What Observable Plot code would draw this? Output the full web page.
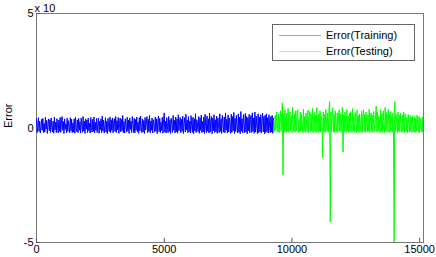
<!DOCTYPE html>
<html>
<head>
<meta charset="utf-8">
<script src="https://cdn.jsdelivr.net/npm/d3@7"></script>
<script src="https://cdn.jsdelivr.net/npm/@observablehq/plot@0.6"></script>
<style>
  body { margin: 0; background: #fff; font-family: "Liberation Sans", Arial, sans-serif; }
  #wrap { position: relative; width: 436px; height: 257px; }
  #legend { position: absolute; left: 272px; top: 24px; width: 141px; height: 35px;
    border: 1px solid #666; background: #fff; font-size: 11px; color: #000; }
  .row { position: absolute; left: 0; height: 14px; display: flex; align-items: center; }
  .sw { width: 42px; height: 0; margin-left: 6px; margin-right: 5px; }
</style>
</head>
<body>
<div id="wrap"></div>
<script>
const xTicks = [0, 5000, 10000, 15000];
const yTicks = [-5, 0, 5];
const seriesNames = ["Error(Training)", "Error(Testing)"];
const seriesColors = ["#0000ff", "#00ff00"];
const legendColors = ["#9a9aff", "#9aff9a"];
const testStart = 9300;
const xMax = 15150;

// training error, sampled every 25 points from 0 to 9300
const trainValues = [
.4,-.2,.1,.45,-.15,.3,-.22,.05,.38,-.1,.42,-.2,.2,-.18,.47,-.05,.33,-.24,.15,.4,
-.12,.36,-.2,.44,.02,-.17,.3,-.23,.48,-.08,.25,-.2,.41,.1,-.22,.35,-.15,.46,-.19,.2,
.5,-.1,.28,-.24,.4,-.06,.18,-.2,.43,-.15,.32,.08,-.21,.45,-.12,.38,-.2,.22,-.18,.4,
-.23,.47,.05,-.16,.36,-.2,.42,-.1,.27,-.22,.44,.12,-.19,.5,-.14,.3,-.24,.4,-.05,.35,
-.2,.43,-.12,.2,-.22,.46,.03,-.18,.38,-.15,.48,-.21,.25,-.1,.42,-.2,.16,.44,-.23,.3,
-.08,.4,-.2,.52,-.13,.34,-.22,.1,.45,-.18,.3,-.24,.42,.06,-.16,.48,-.2,.36,-.11,.44,
-.21,.25,.41,-.15,.5,-.2,.32,-.08,.46,-.23,.2,.43,-.17,.38,-.12,.55,-.2,.28,-.22,.4,
.1,-.18,.47,-.14,.35,-.24,.44,-.06,.3,-.2,.5,.15,-.19,.42,-.22,.37,-.1,.48,-.16,.26,
-.23,.45,-.12,.52,.04,-.2,.4,-.17,.33,-.24,.46,-.09,.22,.5,-.2,.38,-.15,.55,-.21,.3,
-.1,.44,-.22,.36,.12,-.18,.48,-.14,.4,-.25,.3,.52,-.16,.42,-.2,.25,-.12,.47,-.23,.38,
.66,-.18,.3,-.22,.45,.08,-.2,.5,-.15,.36,-.24,.42,.15,-.19,.55,-.1,.33,-.22,.48,-.17,
.4,-.23,.58,-.12,.28,.46,-.2,.38,-.14,.52,-.24,.2,.45,-.18,.6,-.08,.35,-.21,.5,-.16,
.3,-.22,.54,.1,-.19,.47,-.25,.4,-.13,.62,-.2,.36,.18,-.16,.5,-.23,.44,-.1,.56,-.2,
.28,-.17,.48,-.24,.6,.05,-.2,.53,-.14,.4,-.22,.65,-.18,.34,.5,-.25,.44,-.12,.58,-.2,
.36,-.16,.52,-.23,.45,.12,-.2,.62,-.15,.4,-.24,.55,.2,-.18,.48,-.21,.66,-.1,.38,-.22,
.57,-.17,.44,.15,-.23,.6,-.19,.5,-.12,.68,-.24,.42,-.16,.55,.1,-.21,.62,-.18,.47,-.25,
.72,-.14,.4,-.22,.58,.2,-.2,.64,-.17,.5,-.25,.45,-.12,.6,-.21,.38,.55,-.19,.66,-.15,
.44,-.23,.7,-.18,.52,.08,-.24,.62,-.2,.48,-.15,.58,-.22,.4,.65,-.17,.5,-.25,.56,-.2,
.62,-.16,.45,-.22,.58,.1,-.2,.5,-.18,.55,-.23,.4,.45
];

// testing error, sampled every 25 points from 9300 to 15150
const testValues = [
.3,-.15,.55,-.1,.7,.2,-.18,.6,-.2,.45,.75,-.14,.5,1.1,-2.05,.6,-.18,.8,.1,-.2,
.65,-.15,.85,-.19,.4,.7,-.13,.55,-.2,.9,.2,-.16,.62,-.18,.75,-.12,.48,.8,-.2,.35,
-.17,.7,-.14,.58,.2,-.2,.82,-.16,.5,-.19,.66,.1,-.15,.78,-.2,.45,.72,-.18,.6,-.13,
.85,-.2,.4,.68,-.16,.55,-.19,.9,.15,-.2,.62,-.14,.75,-.18,.5,.3,-1.3,.7,-.17,.58,
-.2,.8,.25,-.15,.65,-.19,.82,1.15,-4.1,.7,-.18,.5,.88,-.16,.6,-.2,.75,.1,-.15,.66,
-.19,.55,.8,-.14,.62,-.2,.45,.9,-1.05,.58,-.18,.7,.2,-.2,.8,-.14,.52,-.19,.65,-.16,
.72,.15,-.2,.85,-.13,.5,-.18,.68,.3,-.2,.78,-.15,.55,-.19,.62,.1,-.17,.74,-.2,.48,
.8,-.16,.6,-.2,.7,.2,-.18,.58,-.14,.82,-.2,.45,.66,-.17,.55,-.2,.72,.12,-.16,.6,
.95,-.18,.7,-.14,.5,.25,-.2,.8,-.16,.62,-.19,.75,.1,-.2,.9,-.15,.68,-.18,.55,.82,
-.2,.6,-.15,.72,.3,-.19,.66,-.17,-5.2,1.15,-.16,.6,.2,-.2,.7,-.14,.55,-.18,.65,.1,
-.19,.58,-.15,.7,-.2,.5,.62,-.16,.45,-.2,.6,.15,-.18,.55,-.14,.48,-.2,.52,.1,-.17,
.5,-.19,.45,-.15,.56,.2,-.18,.5,-.2,.42,.12,-.16,.48,-.19,.4
];

const train = trainValues.map((v, i) => ({x: i * testStart / (trainValues.length - 1), y: v}));
const test = testValues.map((v, i) => ({x: testStart + i * (xMax - testStart) / (testValues.length - 1), y: v}));

const chart = Plot.plot({
  width: 436,
  height: 257,
  marginLeft: 36,
  marginRight: 13,
  marginTop: 13,
  marginBottom: 15,
  style: {fontFamily: "'Liberation Sans', Arial, sans-serif", fontSize: "11px", background: "#fff", color: "#000"},
  x: {domain: [0, xMax]},
  y: {domain: [-5, 5]},
  marks: [
    Plot.frame({stroke: "#777"}),
    Plot.line(train, {x: "x", y: "y", stroke: seriesColors[0], strokeWidth: 1, clip: true}),
    Plot.line(test, {x: "x", y: "y", stroke: seriesColors[1], strokeWidth: 1, clip: true}),
    Plot.axisX({ticks: xTicks, tickSize: 0, tickPadding: 3, label: null, tickFormat: d => String(d)}),
    Plot.axisX({ticks: xTicks, tickSize: 4, dy: -4, tickFormat: () => "", label: null, stroke: "#555"}),
    Plot.axisY({ticks: yTicks, tickSize: 0, tickPadding: 3, label: null, tickFormat: d => String(d)}),
    Plot.axisY({ticks: yTicks, tickSize: 4, dx: 4, tickFormat: () => "", label: null, stroke: "#555"}),
    Plot.text(["Error"], {frameAnchor: "left", rotate: -90, dx: -28, fontSize: 11}),
    Plot.text(["x 10"], {frameAnchor: "top-left", textAnchor: "start", dx: -2, dy: -9, fontSize: 11})
  ]
});

const wrap = document.getElementById("wrap");
wrap.appendChild(chart);
const legend = document.createElement("div");
legend.id = "legend";
seriesNames.forEach((name, i) => {
  const row = document.createElement("div");
  row.className = "row";
  row.style.top = (3 + i * 16) + "px";
  const sw = document.createElement("span");
  sw.className = "sw";
  sw.style.borderTop = "1px solid " + legendColors[i];
  const t = document.createElement("span");
  t.textContent = name;
  row.appendChild(sw);
  row.appendChild(t);
  legend.appendChild(row);
});
wrap.appendChild(legend);
</script>
</body>
</html>
